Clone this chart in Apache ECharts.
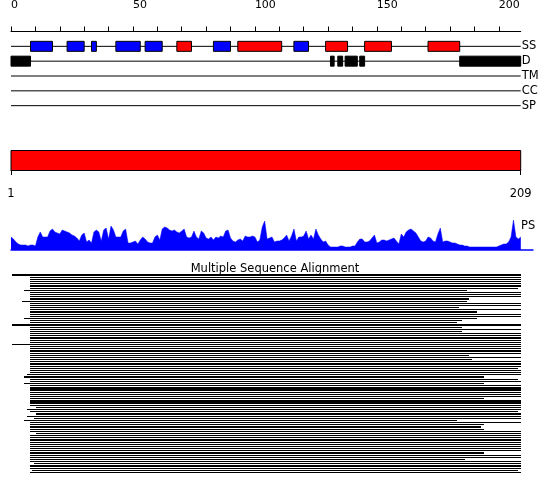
<!DOCTYPE html>
<html><head><meta charset="utf-8">
<script src="https://cdn.jsdelivr.net/npm/echarts@6/dist/echarts.min.js"></script>
<style>html,body{margin:0;padding:0;background:#fff}#c{width:550px;height:495px}</style>
</head><body><div id="c"></div>
<script>
// ---------- data ----------
const trackNames = ['SS', 'D', 'TM', 'CC', 'SP'];
const topTickLabels = [0, 50, 100, 150, 200];
const residueLabels = [1, 209];
const seqLength = 209;
// secondary structure segments [start, end] (residue units)
const ssBlue = [[8,17],[23,30],[33,35],[43,53],[55,62],[83,90],[116,122]];
const ssRed = [[68,74],[93,111],[129,138],[145,156],[171,184]];
// disorder segments
const disorder = [[0,8],[131,132.5],[134,136],[137,142],[143,145],[184,209]];
// domain
const domainRange = [1, 209];
// PS score per position 0..209
const psScores = [
13,11,8,6,5,5,5,4,5,5,
4,13,18,13,13,13,19,21,18,17,
16,20,19,18,17,15,14,12,9,15,
17,8,10,7,18,20,18,9,20,22,
11,24,20,13,13,13,19,21,7,7,
8,9,6,10,13,11,8,7,7,13,
15,10,21,23,22,20,19,20,18,17,
19,21,13,12,13,19,13,11,19,17,
12,11,13,10,13,12,14,13,19,20,
12,9,8,10,11,9,14,13,13,14,
13,8,10,23,29,11,12,13,8,9,
9,10,12,15,9,14,21,9,13,13,
14,19,11,15,11,21,15,11,8,9,
5,3,3,3,3,4,4,3,3,3,
4,4,8,11,11,8,8,9,12,15,
7,8,10,10,9,10,11,12,9,6,
16,13,18,20,21,19,17,13,9,8,
9,13,12,9,8,16,22,8,9,9,
8,7,7,6,5,5,4,4,3,3,
3,3,3,3,3,3,3,3,3,3,
4,5,6,6,8,13,30,13,11,13
];
// multiple sequence alignment: start / end of each aligned sequence
const msaStart = [
0.4,7.6,7.6,7.6,7.6,7.6,7.6,5.3,7.6,7.6,
7.6,7.6,4.5,7.6,7.6,7.6,7.6,7.6,7.6,7.6,
5.3,7.6,7.6,0.4,7.6,7.6,7.6,7.6,7.6,7.6,
7.6,7.6,0.4,7.6,7.6,7.6,7.6,7.6,7.6,7.6,
7.6,7.6,7.6,7.6,7.6,7.6,6.7,5.5,7.6,7.6,
5.5,7.6,7.6,7.6,7.6,7.6,7.6,7.6,7.6,7.6,
7.6,10.3,6.7,7.6,10.3,6.7,9.6,5.5,7.6,7.6,
7.6,7.6,7.6,10.3,7.6,7.6,7.6,7.6,7.6,7.6,
7.6,7.6,7.6,7.6,7.6,7.6,7.6,9.6,7.6,7.6,
8.5,7.6
];
const msaEnd = [
209,209,209,209,209,209,207.7,187,209,209,
209,188,187,209,209,183.7,209,191,209,209,
191,185,183,209,185,209,185,209,209,209,
209,209,209,209,209,209,209,188,209,189,
209,209,209,207.7,209,209,209,194,207.7,209,
194,209,209,209,209,209,209,194,209,209,
209,209,209,207.7,209,209,209,183,209,194,
192.6,194,209,209,209,209,209,209,209,209,
209,209,194,209,209,186,209,209,209,209,
207.7,209
];

// ---------- chart ----------
const FONT = 'DejaVu Sans';
const chart = echarts.init(document.getElementById('c'), null, {renderer: 'canvas'});

const trackItems = [];
trackNames.forEach((n, i) => trackItems.push({value: [0, seqLength, i + 1], kind: 'line'}));
ssBlue.forEach(s => trackItems.push({value: [s[0], s[1], 1], kind: 'blue'}));
ssRed.forEach(s => trackItems.push({value: [s[0], s[1], 1], kind: 'red'}));
disorder.forEach(s => trackItems.push({value: [s[0], s[1], 2], kind: 'black'}));

const msaItems = msaStart.map((s, i) => [s, msaEnd[i], i + 0.5]);
const tickVals = [];
for (let t = 0; t <= 200; t += 10) tickVals.push(t);

const option = {
  animation: false,
  backgroundColor: '#fff',
  title: {
    text: 'Multiple Sequence Alignment', left: 'center', top: 258,
    textStyle: {fontFamily: FONT, fontSize: 11.5, fontWeight: 'normal', color: '#000'}
  },
  graphic: [{
    type: 'text', left: 521, top: 220,
    style: {text: 'PS', fontFamily: FONT, fontSize: 11.5, fill: '#000'}
  }],
  grid: [
    {left: 11, width: 509.7, top: 30.5, height: 90},
    {left: 11, width: 509.7, top: 150.5, height: 20},
    {left: 11, width: 522, top: 220, height: 30},
    {left: 11, width: 509.7, top: 274, height: 199.6}
  ],
  xAxis: [
    {gridIndex: 0, type: 'value', min: 0, max: seqLength, position: 'top', offset: 15.5,
      splitLine: {show: false},
      axisLine: {show: true, lineStyle: {color: '#000', width: 1}},
      axisTick: {show: true, length: 5, customValues: tickVals, lineStyle: {color: '#000'}},
      axisLabel: {show: true, customValues: topTickLabels, align: 'left', margin: 5,
        fontFamily: FONT, fontSize: 11, color: '#000'}},
    {gridIndex: 1, type: 'value', min: 1, max: seqLength, position: 'bottom', offset: 10,
      splitLine: {show: false},
      axisLine: {show: true, lineStyle: {color: '#000', width: 1}},
      axisTick: {show: true, length: 4.5, customValues: residueLabels, lineStyle: {color: '#000'}},
      axisLabel: {show: true, customValues: residueLabels, margin: 8,
        fontFamily: FONT, fontSize: 11.5, color: '#000'}},
    {gridIndex: 2, type: 'value', min: 0, max: 214.0,
      splitLine: {show: false}, axisTick: {show: false}, axisLabel: {show: false},
      axisLine: {show: true, lineStyle: {color: '#0000ff', width: 1.5}}},
    {gridIndex: 3, type: 'value', min: 0, max: seqLength, show: false}
  ],
  yAxis: [
    {gridIndex: 0, type: 'value', min: 0, max: 6, inverse: true, position: 'right',
      splitLine: {show: false}, axisLine: {show: false}, axisTick: {show: false},
      axisLabel: {show: true, customValues: [1,2,3,4,5], margin: 1, align: 'left',
        formatter: v => trackNames[v - 1] || '', fontFamily: FONT, fontSize: 11.5, color: '#000'}},
    {gridIndex: 1, type: 'value', min: 0, max: 1, show: false},
    {gridIndex: 2, type: 'value', min: 0, max: 30, show: false},
    {gridIndex: 3, type: 'value', min: 0, max: 92, inverse: true, show: false}
  ],
  series: [
    {
      type: 'custom', xAxisIndex: 0, yAxisIndex: 0,
      data: trackItems,
      renderItem: (params, api) => {
        const item = trackItems[params.dataIndex];
        const a = api.coord([api.value(0), api.value(2)]);
        const b = api.coord([api.value(1), api.value(2)]);
        if (item.kind === 'line') {
          return {type: 'line', shape: {x1: a[0], y1: a[1], x2: b[0], y2: b[1]},
            style: {stroke: '#000', lineWidth: 1}};
        }
        const fill = item.kind === 'blue' ? '#0000ff' : item.kind === 'red' ? '#ff0000' : '#000';
        return {type: 'rect', shape: {x: a[0], y: a[1] - 5, width: b[0] - a[0], height: 10},
          style: {fill: fill, stroke: '#000', lineWidth: 1}};
      }
    },
    {
      type: 'custom', xAxisIndex: 1, yAxisIndex: 1,
      data: [[domainRange[0], domainRange[1]]],
      renderItem: (params, api) => {
        const a = api.coord([api.value(0), 1]);
        const b = api.coord([api.value(1), 0]);
        return {type: 'rect', shape: {x: a[0], y: a[1], width: b[0] - a[0], height: b[1] - a[1]},
          style: {fill: '#ff0000', stroke: '#000', lineWidth: 1}};
      }
    },
    {
      type: 'line', xAxisIndex: 2, yAxisIndex: 2,
      data: psScores.map((v, i) => [i, v]),
      symbol: 'none', lineStyle: {width: 0.5, color: '#0000ff'},
      areaStyle: {color: '#0000ff', opacity: 1}
    },
    {
      type: 'custom', xAxisIndex: 3, yAxisIndex: 3,
      data: msaItems,
      renderItem: (params, api) => {
        const a = api.coord([api.value(0), api.value(2)]);
        const b = api.coord([api.value(1), api.value(2)]);
        const y0 = Math.round(a[1] - 0.6);
        const y1 = Math.max(y0 + 1, Math.round(a[1] + 0.6));
        const x0 = Math.round(a[0]);
        const x1 = Math.round(b[0]);
        return {type: 'rect', shape: {x: x0, y: y0, width: x1 - x0, height: y1 - y0},
          style: {fill: '#000'}};
      }
    }
  ]
};
chart.setOption(option);
</script>
</body></html>
